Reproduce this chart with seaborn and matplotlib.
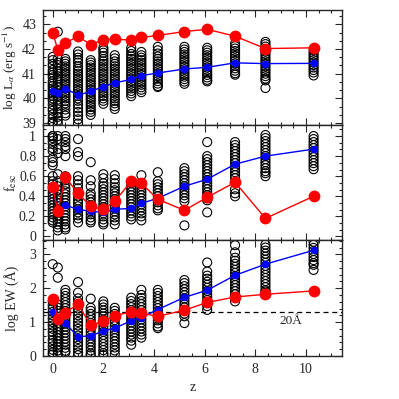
import matplotlib
matplotlib.use("Agg")
import matplotlib.pyplot as plt
from matplotlib.ticker import MultipleLocator, AutoMinorLocator, FuncFormatter
import pandas as pd
import seaborn as sns

# redshift of each column of galaxies
z_bins = [0.0, 0.2, 0.5, 1.0, 1.5, 2.0, 2.45, 3.1, 3.5, 4.15, 5.2, 6.1, 7.2, 8.4, 10.3]

# log L_alpha: individual galaxies per redshift
lum_cols = [
    [41.68, 41.55, 41.4, 41.3, 41.15, 41.05, 40.95, 40.85, 40.7, 40.6, 40.5, 40.4,
     40.3, 40.2, 40.1, 40.0, 39.9, 39.75, 39.6, 39.5, 39.35, 39.2, 39.05, 38.98],
    [42.7, 41.6, 41.45, 41.35, 41.2, 41.1, 41.0, 40.9, 40.8, 40.7, 40.55, 40.45,
     40.3, 40.2, 40.1, 39.95, 39.8, 39.7, 39.55, 39.4, 39.25, 39.1, 38.98],
    [41.6, 41.5, 41.4, 41.3, 41.2, 41.1, 41.0, 40.9, 40.8, 40.7, 40.6, 40.5,
     40.4, 40.3, 40.2, 40.1, 40.0, 39.9, 39.8, 39.7, 39.55, 39.4, 39.3],
    [41.9, 41.78, 41.65, 41.55, 41.45, 41.3, 41.2, 41.1, 41.0, 40.9, 40.8, 40.7, 40.6,
     40.5, 40.4, 40.3, 40.2, 40.1, 40.0, 39.9, 39.75, 39.6, 39.45, 39.3, 39.15, 38.98],
    [41.55, 41.45, 41.35, 41.25, 41.15, 41.05, 40.95, 40.85, 40.75, 40.65, 40.55, 40.45,
     40.35, 40.25, 40.15, 40.05, 39.95, 39.85, 39.75, 39.65, 39.55, 39.45, 39.33],
    [42.05, 41.95, 41.85, 41.72, 41.6, 41.5, 41.4, 41.3, 41.2, 41.1, 41.0, 40.9,
     40.8, 40.7, 40.6, 40.5, 40.4, 40.3, 40.2, 40.1, 40.0, 39.9, 39.78],
    [41.75, 41.62, 41.5, 41.4, 41.3, 41.2, 41.1, 41.0, 40.9, 40.8, 40.7, 40.6,
     40.5, 40.4, 40.3, 40.2, 40.1, 40.0, 39.9, 39.8, 39.68, 39.57],
    [42.05, 41.92, 41.8, 41.7, 41.6, 41.5, 41.4, 41.3, 41.2, 41.1, 41.0, 40.9,
     40.8, 40.7, 40.6, 40.5, 40.4, 40.3, 40.2, 40.09],
    [41.88, 41.75, 41.65, 41.55, 41.45, 41.35, 41.25, 41.15, 41.05, 40.95, 40.85,
     40.75, 40.65, 40.55, 40.45, 40.35, 40.25],
    [42.09, 41.95, 41.82, 41.7, 41.6, 41.5, 41.4, 41.3, 41.2, 41.1, 41.0, 40.9,
     40.8, 40.7, 40.6, 40.5, 40.46],
    [42.09, 41.98, 41.88, 41.78, 41.68, 41.58, 41.48, 41.38, 41.28, 41.18, 41.08,
     40.98, 40.88, 40.78, 40.68, 40.59],
    [42.05, 41.95, 41.85, 41.75, 41.65, 41.55, 41.45, 41.35, 41.25, 41.15, 41.05,
     40.95, 40.85, 40.75, 40.69],
    [42.22, 42.12, 42.02, 41.92, 41.82, 41.72, 41.62, 41.52, 41.42, 41.32, 41.22,
     41.12, 41.02, 40.96],
    [42.29, 42.2, 42.1, 42.0, 41.9, 41.8, 41.7, 41.6, 41.5, 41.4, 41.3, 41.2, 41.1,
     41.0, 40.9, 40.8, 40.73, 40.42],
    [41.95, 41.85, 41.75, 41.65, 41.55, 41.45, 41.35, 41.25, 41.15, 41.05, 40.93],
]
lum_red = [42.66, 41.98, 42.25, 42.51, 42.18, 42.38, 42.39, 42.37, 42.47, 42.55,
           42.71, 42.8, 42.52, 42.02, 42.05]
lum_blue = [40.31, 40.21, 40.4, 40.13, 40.28, 40.48, 40.63, 40.77, 40.92, 41.03,
            41.19, 41.26, 41.44, 41.41, 41.42]

# escape fraction
fesc_cols = [
    [1.0, 1.0, 0.98, 0.95, 0.92, 0.88, 0.85, 0.78, 0.74, 0.71, 0.6, 0.55, 0.52, 0.49,
     0.46, 0.43, 0.4, 0.37, 0.34, 0.31, 0.28, 0.25, 0.22, 0.19, 0.16, 0.14],
    [1.0, 0.97, 0.87, 0.83, 0.62, 0.55, 0.5, 0.46, 0.42, 0.39, 0.36, 0.33, 0.3, 0.27,
     0.24, 0.21, 0.18, 0.15, 0.12, 0.09, 0.06],
    [1.0, 0.97, 0.94, 0.9, 0.87, 0.8, 0.6, 0.56, 0.52, 0.48, 0.45, 0.42, 0.39, 0.36,
     0.33, 0.3, 0.27, 0.24, 0.21, 0.18, 0.15, 0.12, 0.09, 0.07],
    [0.97, 0.84, 0.8, 0.6, 0.56, 0.52, 0.48, 0.44, 0.4, 0.36, 0.33, 0.3, 0.27, 0.24,
     0.21, 0.18, 0.14],
    [0.74, 0.56, 0.5, 0.43, 0.4, 0.37, 0.34, 0.31, 0.28, 0.25, 0.22, 0.19, 0.16, 0.14],
    [0.62, 0.58, 0.53, 0.5, 0.47, 0.44, 0.41, 0.38, 0.35, 0.32, 0.29, 0.26, 0.23, 0.2,
     0.17, 0.14, 0.12],
    [0.61, 0.57, 0.53, 0.49, 0.46, 0.43, 0.4, 0.37, 0.34, 0.31, 0.28, 0.25, 0.22, 0.19,
     0.16, 0.12],
    [0.53, 0.5, 0.47, 0.44, 0.41, 0.38, 0.35, 0.32, 0.29, 0.26, 0.23, 0.2, 0.17],
    [0.61, 0.53, 0.5, 0.47, 0.44, 0.41, 0.38, 0.35, 0.32, 0.29, 0.26, 0.23, 0.2, 0.16],
    [0.64, 0.55, 0.52, 0.49, 0.46, 0.43, 0.4, 0.37, 0.34, 0.31, 0.28, 0.26],
    [0.68, 0.65, 0.62, 0.59, 0.56, 0.53, 0.5, 0.47, 0.44, 0.41, 0.38, 0.35, 0.11],
    [0.94, 0.8, 0.77, 0.74, 0.71, 0.68, 0.65, 0.62, 0.59, 0.56, 0.53, 0.5, 0.47, 0.44,
     0.41, 0.38, 0.36, 0.24],
    [0.94, 0.91, 0.88, 0.85, 0.82, 0.79, 0.76, 0.73, 0.7, 0.67, 0.64, 0.61, 0.58, 0.47,
     0.43, 0.4],
    [1.01, 0.98, 0.95, 0.92, 0.89, 0.86, 0.83, 0.8, 0.77, 0.74, 0.71, 0.68, 0.65, 0.63, 0.6],
    [1.0, 0.97, 0.94, 0.91, 0.88, 0.85, 0.82, 0.79, 0.76, 0.73, 0.7, 0.67],
]
fesc_red = [0.49, 0.25, 0.59, 0.43, 0.3, 0.27, 0.35, 0.55, 0.53, 0.37, 0.26, 0.39,
            0.54, 0.18, 0.4]
fesc_blue = [0.47, 0.27, 0.31, 0.27, 0.25, 0.24, 0.27, 0.28, 0.33, 0.38, 0.5, 0.57,
             0.72, 0.8, 0.87]

# log equivalent width
ew_cols = [
    [2.71, 1.61, 1.5, 1.4, 1.3, 1.2, 1.1, 1.0, 0.9, 0.8, 0.7, 0.6, 0.47, 0.38, 0.28,
     0.18, 0.1, 0.04],
    [2.61, 2.31, 1.51, 1.42, 1.33, 1.24, 1.15, 1.06, 0.97, 0.88, 0.79, 0.7, 0.61, 0.52,
     0.43, 0.34, 0.25, 0.16, 0.05],
    [1.95, 1.86, 1.77, 1.68, 1.59, 1.5, 1.41, 1.32, 1.23, 1.14, 1.05, 0.96, 0.87, 0.78,
     0.69, 0.6, 0.51, 0.42, 0.33, 0.24, 0.15, 0.1],
    [2.18, 1.87, 1.7, 1.6, 1.5, 1.4, 1.3, 1.2, 1.1, 1.0, 0.9, 0.8, 0.7, 0.6, 0.5, 0.4,
     0.3, 0.2, 0.1, 0.02],
    [1.69, 1.42, 1.33, 1.24, 1.15, 1.06, 0.97, 0.88, 0.79, 0.7, 0.61, 0.52, 0.43, 0.34,
     0.25, 0.16, 0.07, 0.02],
    [1.61, 1.52, 1.43, 1.34, 1.25, 1.16, 1.07, 0.98, 0.89, 0.8, 0.71, 0.62, 0.53, 0.44,
     0.35, 0.26, 0.17, 0.08, 0.02],
    [1.42, 1.33, 1.24, 1.15, 1.06, 0.97, 0.88, 0.79, 0.7, 0.61, 0.52, 0.43, 0.34, 0.25,
     0.16, 0.05],
    [1.72, 1.62, 1.53, 1.44, 1.35, 1.26, 1.17, 1.08, 0.99, 0.9, 0.81, 0.72, 0.63, 0.54,
     0.45, 0.33],
    [1.95, 1.8, 1.71, 1.62, 1.53, 1.44, 1.35, 1.26, 1.17, 1.08, 0.99, 0.9, 0.81, 0.72,
     0.63, 0.54],
    [1.95, 1.86, 1.77, 1.68, 1.59, 1.5, 1.41, 1.32, 1.23, 1.14, 1.05, 0.96, 0.87, 0.82],
    [2.24, 2.15, 2.06, 1.97, 1.88, 1.79, 1.7, 1.61, 1.52, 1.43, 1.34, 1.25, 1.17, 0.97],
    [2.76, 2.49, 2.37, 2.28, 2.19, 2.1, 2.01, 1.92, 1.83, 1.74, 1.65, 1.56, 1.47, 1.36],
    [3.27, 3.06, 2.9, 2.81, 2.72, 2.63, 2.54, 2.45, 2.36, 2.27, 2.18, 2.09, 2.0, 1.91,
     1.82, 1.73, 1.61],
    [3.29, 3.2, 3.11, 3.02, 2.93, 2.84, 2.75, 2.66, 2.57, 2.48, 2.39, 2.3, 2.21, 2.12,
     2.03, 1.94, 1.9],
    [3.37, 3.28, 3.19, 3.1, 3.01, 2.92, 2.83, 2.74, 2.69, 2.54],
]
ew_red = [1.69, 1.09, 1.28, 1.53, 0.9, 1.02, 1.19, 1.3, 1.26, 1.17, 1.35, 1.58,
          1.74, 1.82, 1.92]
ew_blue = [1.3, 1.1, 0.96, 0.57, 0.59, 0.74, 0.82, 1.04, 1.13, 1.37, 1.73, 1.94,
           2.38, 2.71, 3.12]
ew_cut = 1.301  # log(20 A)


def to_long(cols):
    rows = [(z, v) for z, col in zip(z_bins, cols) for v in col]
    return pd.DataFrame(rows, columns=["z", "val"])


def draw_panel(ax, cols, red, blue):
    sns.scatterplot(data=to_long(cols), x="z", y="val", ax=ax, marker="o", s=42,
                    facecolor="none", edgecolor="black", linewidth=0.8,
                    legend=False, zorder=2)
    sns.lineplot(x=z_bins, y=blue, ax=ax, color="blue", marker="o", markersize=5.5,
                 markeredgewidth=0, linewidth=1, zorder=3)
    sns.lineplot(x=z_bins, y=red, ax=ax, color="red", marker="o", markersize=8.5,
                 markeredgewidth=0, linewidth=1, zorder=4)
    ax.tick_params(which="both", direction="in", top=True, right=True,
                   labelsize=10, pad=5, width=0.8)
    ax.tick_params(which="major", length=5)
    ax.tick_params(which="minor", length=2.5)
    ax.xaxis.set_major_locator(MultipleLocator(2))
    ax.xaxis.set_minor_locator(MultipleLocator(0.5))
    ax.set_xlim(-0.38, 11.42)
    ax.yaxis.set_label_coords(-0.082, 0.5)
    for s in ax.spines.values():
        s.set_linewidth(1)


sns.set_style("ticks")
plt.rcParams["font.family"] = ["Liberation Serif", "DejaVu Serif"]
plt.rcParams["mathtext.fontset"] = "stix"

fig, axes = plt.subplots(3, 1, figsize=(3.99, 3.99), dpi=100, sharex=True)
fig.subplots_adjust(left=0.108, right=0.857, top=0.976, bottom=0.108, hspace=0)

ax1, ax2, ax3 = axes
draw_panel(ax1, lum_cols, lum_red, lum_blue)
ax1.set_ylim(38.92, 43.6)
ax1.yaxis.set_major_locator(MultipleLocator(1))
ax1.yaxis.set_minor_locator(AutoMinorLocator(3))
ax1.set_ylabel(r"log L$_\alpha$ (erg s$^{-1}$)", fontsize=9.5)

draw_panel(ax2, fesc_cols, fesc_red, fesc_blue)
ax2.set_ylim(-0.04, 1.11)
ax2.yaxis.set_major_locator(MultipleLocator(0.2))
ax2.yaxis.set_minor_locator(AutoMinorLocator(3))
ax2.yaxis.set_major_formatter(FuncFormatter(lambda v, p: f"{v:g}"))
ax2.set_ylabel(r"f$_{\rm esc}$", fontsize=10)

draw_panel(ax3, ew_cols, ew_red, ew_blue)
ax3.axhline(ew_cut, color="black", linestyle=(0, (4, 3)), linewidth=0.9, zorder=1)
ax3.text(9.4, 1.03, "20Å", ha="center", va="center", fontsize=9.5)
ax3.set_ylim(0, 3.41)
ax3.yaxis.set_major_locator(MultipleLocator(1))
ax3.yaxis.set_minor_locator(AutoMinorLocator(5))
ax3.set_ylabel("log EW (Å)", fontsize=10)
ax3.set_xlabel("z", fontsize=10)

for ax in (ax1, ax2):
    ax.set_xlabel("")

fig.savefig("out.png", dpi=100, facecolor="white")
